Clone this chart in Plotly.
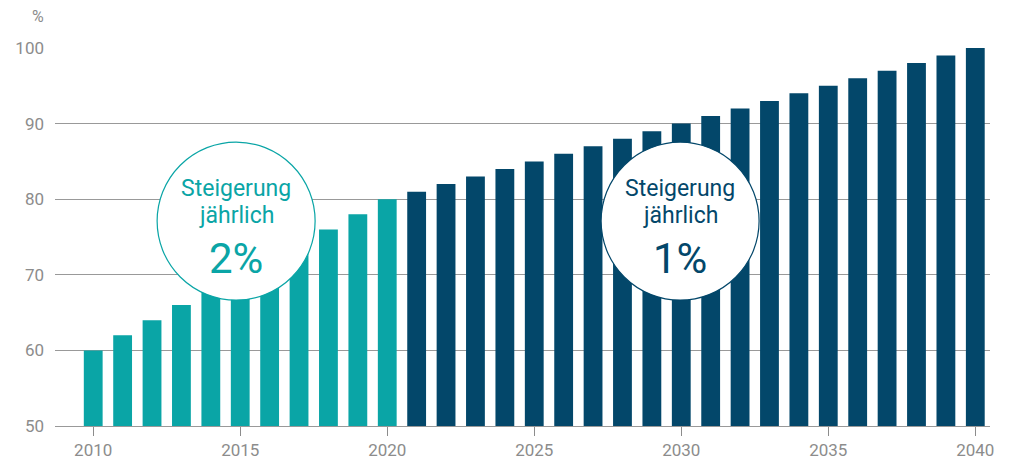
import plotly.graph_objects as go

years_a = list(range(2010, 2021))
values_a = [60, 62, 64, 66, 68, 70, 72, 74, 76, 78, 80]
years_b = list(range(2021, 2041))
values_b = [81, 82, 83, 84, 85, 86, 87, 88, 89, 90, 91, 92, 93, 94, 95, 96, 97, 98, 99, 100]
tick_years = [2010, 2015, 2020, 2025, 2030, 2035, 2040]
y_ticks = [50, 60, 70, 80, 90, 100]

TEAL = "#0aa5a6"
DARK = "#03476a"
GREY = "#8c8c8c"
FONT = "Roboto"

fig = go.Figure()
fig.add_bar(x=years_a, y=[v - 50 for v in values_a], base=50, marker_color=TEAL,
            marker_line_width=0, width=0.64)
fig.add_bar(x=years_b, y=[v - 50 for v in values_b], base=50, marker_color=DARK,
            marker_line_width=0, width=0.64)

circles = [(2014.86, 77.1, TEAL, "2%"), (2029.96, 77.1, DARK, "1%")]
for cx, cy, col, big in circles:
    fig.add_shape(type="circle", xref="x", yref="y", xsizemode="pixel", ysizemode="pixel",
                  xanchor=cx, yanchor=cy, x0=-79, x1=79, y0=-79, y1=79,
                  fillcolor="white", line=dict(color=col, width=1.2), layer="above")
    fig.add_annotation(x=cx, y=cy, xref="x", yref="y", yshift=33, showarrow=False,
                       text="Steigerung", font=dict(family=FONT, size=23, color=col))
    fig.add_annotation(x=cx, y=cy, xref="x", yref="y", yshift=6, showarrow=False,
                       text="jährlich", font=dict(family=FONT, size=23, color=col))
    fig.add_annotation(x=cx, y=cy, xref="x", yref="y", yshift=-37, showarrow=False,
                       text=big, font=dict(family=FONT, size=42, color=col))

fig.add_annotation(x=-0.0, y=1.0, xref="paper", yref="paper", xanchor="right", yanchor="bottom",
                   xshift=-9, yshift=20, showarrow=False, text="%",
                   font=dict(family=FONT, size=16, color=GREY))

fig.update_layout(
    width=1015, height=466, margin=dict(l=55, r=25, t=48, b=40),
    paper_bgcolor="white", plot_bgcolor="white", showlegend=False, barmode="overlay",
    font=dict(family=FONT, size=17, color=GREY),
)
fig.update_xaxes(range=[2008.7, 2040.5], tickvals=tick_years, ticktext=[str(t) for t in tick_years],
                 ticks="outside", ticklen=9, tickcolor=GREY, showgrid=False, automargin=False,
                 showline=True, linecolor="#999999", linewidth=1, zeroline=False,
                 tickfont=dict(color=GREY, size=17))
fig.update_yaxes(range=[50, 100], tickvals=y_ticks, showgrid=True, gridcolor="#999999", gridwidth=1,
                 zeroline=False, showline=False, ticks="", ticklabelstandoff=10, automargin=False,
                 tickfont=dict(color=GREY, size=17))

fig.write_html("out.html")
